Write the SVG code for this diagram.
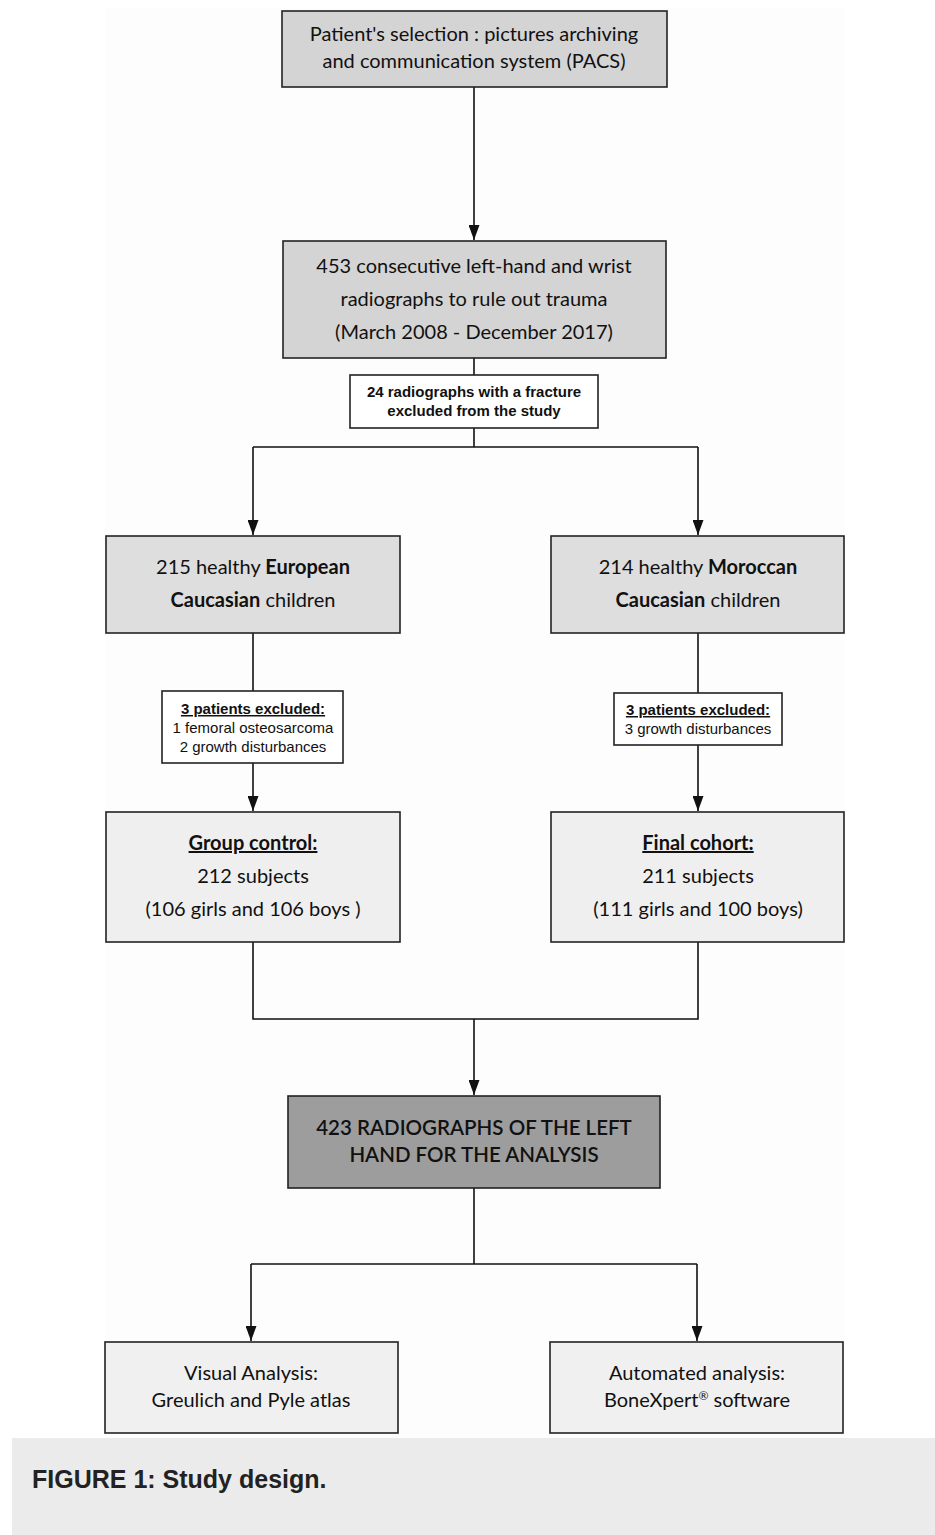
<svg xmlns="http://www.w3.org/2000/svg" width="935" height="1535" viewBox="0 0 935 1535">
<defs>
<marker id="ah" viewBox="0 0 15 11" refX="15" refY="5.5" markerWidth="15" markerHeight="11" markerUnits="userSpaceOnUse" orient="auto">
<path d="M0,0 L15,5.5 L0,11 Z" fill="#111"/>
</marker>
<style>
.box{stroke:#222;stroke-width:1.6}
.t{font-family:Lato,"Noto Sans","Liberation Sans",sans-serif;font-size:20px;fill:#111;text-anchor:middle}
.s{font-family:"Liberation Sans",Arial,sans-serif;font-size:15px;fill:#111;text-anchor:middle}
.b{font-weight:bold}
.u{text-decoration:underline}
.c{fill:none;stroke:#111;stroke-width:1.6}
</style>
</defs>
<rect x="0" y="0" width="935" height="1535" fill="#ffffff"/>
<rect x="105" y="8" width="740" height="1430" fill="#fdfdfd"/>

<g id="connectors">
<path class="c" d="M474,87 V240" marker-end="url(#ah)"/>
<path class="c" d="M474,358 V375"/>
<path class="c" d="M474,428 V447"/>
<path class="c" d="M253,447 H698"/>
<path class="c" d="M253,447 V535" marker-end="url(#ah)"/>
<path class="c" d="M698,447 V535" marker-end="url(#ah)"/>
<path class="c" d="M253,633 V691"/>
<path class="c" d="M253,763 V811" marker-end="url(#ah)"/>
<path class="c" d="M698,633 V693"/>
<path class="c" d="M698,745 V811" marker-end="url(#ah)"/>
<path class="c" d="M253,942 V1019 H698 V942"/>
<path class="c" d="M474,1019 V1095" marker-end="url(#ah)"/>
<path class="c" d="M474,1188 V1264"/>
<path class="c" d="M251,1264 H697"/>
<path class="c" d="M251,1264 V1341" marker-end="url(#ah)"/>
<path class="c" d="M697,1264 V1341" marker-end="url(#ah)"/>
</g>

<g id="pacs">
<rect class="box" x="282" y="11" width="385" height="76" fill="#d4d4d4"/>
<text class="t" x="474" y="41">Patient's selection : pictures archiving</text>
<text class="t" x="474" y="68">and communication system (PACS)</text>
</g>

<g id="consecutive">
<rect class="box" x="283" y="241" width="383" height="117" fill="#d4d4d4"/>
<text class="t" x="474" y="273">453 consecutive left-hand and wrist</text>
<text class="t" x="474" y="306">radiographs to rule out trauma</text>
<text class="t" x="474" y="339">(March 2008 - December 2017)</text>
</g>

<g id="fracture">
<rect class="box" x="350" y="375" width="248" height="53" fill="#ffffff"/>
<text class="s b" x="474" y="397">24 radiographs with a fracture</text>
<text class="s b" x="474" y="416">excluded from the study</text>
</g>

<g id="european">
<rect class="box" x="106" y="536" width="294" height="97" fill="#dedede"/>
<text class="t" x="253" y="574">215 healthy <tspan class="b">European</tspan></text>
<text class="t" x="253" y="607"><tspan class="b">Caucasian</tspan> children</text>
</g>

<g id="moroccan">
<rect class="box" x="551" y="536" width="293" height="97" fill="#dedede"/>
<text class="t" x="698" y="574">214 healthy <tspan class="b">Moroccan</tspan></text>
<text class="t" x="698" y="607"><tspan class="b">Caucasian</tspan> children</text>
</g>

<g id="excluded-left">
<rect class="box" x="162" y="691" width="181" height="72" fill="#ffffff"/>
<text class="s b u" x="253" y="714">3 patients excluded:</text>
<text class="s" x="253" y="733">1 femoral osteosarcoma</text>
<text class="s" x="253" y="752">2 growth disturbances</text>
</g>

<g id="excluded-right">
<rect class="box" x="614" y="693" width="168" height="52" fill="#ffffff"/>
<text class="s b u" x="698" y="715">3 patients excluded:</text>
<text class="s" x="698" y="734">3 growth disturbances</text>
</g>

<g id="group-control">
<rect class="box" x="106" y="812" width="294" height="130" fill="#efefef"/>
<text class="t b u" x="253" y="850">Group control:</text>
<text class="t" x="253" y="883">212 subjects</text>
<text class="t" x="253" y="916">(106 girls and 106 boys )</text>
</g>

<g id="final-cohort">
<rect class="box" x="551" y="812" width="293" height="130" fill="#efefef"/>
<text class="t b u" x="698" y="850">Final cohort:</text>
<text class="t" x="698" y="883">211 subjects</text>
<text class="t" x="698" y="916">(111 girls and 100 boys)</text>
</g>

<g id="analysis">
<rect class="box" x="288" y="1096" width="372" height="92" fill="#9d9d9d"/>
<text class="t" x="474" y="1135" style="font-weight:600;font-size:20.5px">423 RADIOGRAPHS OF THE LEFT</text>
<text class="t" x="474" y="1162" style="font-weight:600;font-size:20.5px">HAND FOR THE ANALYSIS</text>
</g>

<g id="visual">
<rect class="box" x="105" y="1342" width="293" height="91" fill="#f0f0f0"/>
<text class="t" x="251" y="1380">Visual Analysis:</text>
<text class="t" x="251" y="1407">Greulich and Pyle atlas</text>
</g>

<g id="automated">
<rect class="box" x="550" y="1342" width="293" height="91" fill="#f0f0f0"/>
<text class="t" x="697" y="1380">Automated analysis:</text>
<text class="t" x="697" y="1407">BoneXpert<tspan font-size="12" dy="-7">®</tspan><tspan dy="7"> software</tspan></text>
</g>

<g id="caption">
<rect x="12" y="1438" width="923" height="97" fill="#ebebeb"/>
<text x="32" y="1488" style="font-family:'Liberation Sans',Arial,sans-serif;font-size:25px;font-weight:bold;fill:#222">FIGURE 1: Study design.</text>
</g>
</svg>
